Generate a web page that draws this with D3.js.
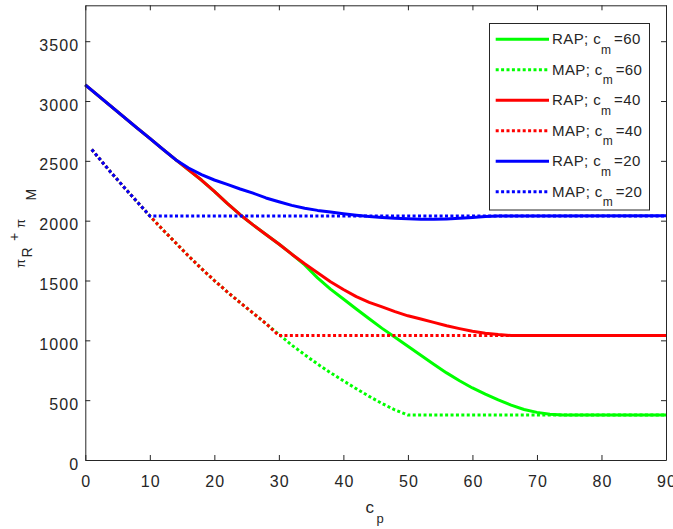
<!DOCTYPE html>
<html>
<head>
<meta charset="utf-8">
<script src="https://cdn.jsdelivr.net/npm/d3@7"></script>
<style>
  html, body { margin: 0; padding: 0; background: #fff; }
  svg { display: block; }
  text { font-family: "Liberation Sans", Arial, Helvetica, sans-serif; fill: #262626; }
</style>
</head>
<body>
<svg id="chart" width="673" height="529"></svg>
<script>
// ---- data ----
const xTicks = [0, 10, 20, 30, 40, 50, 60, 70, 80, 90];
const yTicks = [0, 500, 1000, 1500, 2000, 2500, 3000, 3500];
const xDomain = [0, 90];
const yDomain = [0, 3800];

// RAP; c_m = 60 (green, solid)
const rap60 = [[0,3135],[2,3045],[4,2955],[6,2865],[8,2775],[10,2688],[12,2598],[14,2510],[16,2425],[18,2340],[20,2245],[22,2145],[24,2050],[26,1965],[28,1885],[30,1805],[32,1720],[34,1630],[36,1522],[38,1428],[40,1345],[42,1262],[44,1180],[46,1100],[48,1025],[50,950],[52,875],[54,800],[56,728],[58,662],[60,602],[62,550],[64,502],[66,458],[68,422],[70,398],[72,382],[74,376],[90,376]];
// MAP; c_m = 60 (green, dotted)
const map60 = [[1,2595],[2,2530],[4,2402],[6,2280],[8,2160],[10,2040],[12,1925],[14,1815],[16,1705],[18,1600],[20,1500],[22,1405],[24,1315],[26,1228],[28,1140],[30,1050],[32,960],[34,880],[36,802],[38,730],[40,662],[42,596],[44,532],[46,472],[48,418],[50,376],[90,376]];
// RAP; c_m = 40 (red, solid)
const rap40 = [[0,3135],[2,3045],[4,2955],[6,2865],[8,2775],[10,2688],[12,2598],[14,2510],[16,2425],[18,2340],[20,2245],[22,2145],[24,2050],[26,1965],[28,1885],[30,1805],[32,1720],[34,1640],[36,1565],[38,1490],[40,1425],[42,1365],[44,1318],[46,1280],[48,1240],[50,1205],[52,1178],[54,1150],[56,1122],[58,1098],[60,1076],[62,1060],[64,1048],[66,1040],[90,1040]];
// MAP; c_m = 40 (red, dotted)
const map40 = [[1,2595],[2,2530],[4,2402],[6,2280],[8,2160],[10,2040],[12,1925],[14,1815],[16,1705],[18,1600],[20,1500],[22,1405],[24,1315],[26,1228],[28,1140],[30,1040],[90,1040]];
// RAP; c_m = 20 (blue, solid)
const rap20 = [[0,3135],[2,3045],[4,2955],[6,2865],[8,2775],[10,2688],[12,2598],[14,2510],[16,2440],[18,2385],[20,2340],[22,2303],[24,2265],[26,2230],[28,2190],[30,2158],[32,2128],[34,2104],[36,2086],[38,2072],[40,2058],[42,2045],[44,2034],[46,2027],[48,2021],[50,2016],[52,2012],[54,2012],[56,2015],[58,2020],[60,2027],[62,2034],[64,2040],[90,2042]];
// MAP; c_m = 20 (blue, dotted)
const map20 = [[1,2595],[2,2530],[4,2402],[6,2280],[8,2160],[10,2040],[90,2040]];

const seriesNames = ["RAP; c", "MAP; c", "RAP; c", "MAP; c", "RAP; c", "MAP; c"];
const seriesSub = ["m", "m", "m", "m", "m", "m"];
const seriesTail = ["=60", "=60", "=40", "=40", "=20", "=20"];
const seriesData = [rap60, map60, rap40, map40, rap20, map20];
const seriesColors = ["#00ff00", "#00ff00", "#ff0000", "#ff0000", "#0000ff", "#0000ff"];
const seriesDotted = [false, true, false, true, false, true];

// ---- layout ----
const svg = d3.select("#chart");
const L = 85.3, R = 666, T = 5.3, B = 460;
const axisColor = "#262626";

const x = d3.scaleLinear().domain(xDomain).range([L, R]);
const y = d3.scaleLinear().domain(yDomain).range([B, T]);

// lines
const line = d3.line().x(d => x(d[0])).y(d => y(d[1]));
const plot = svg.append("g");
seriesData.forEach((data, i) => {
  plot.append("path")
    .datum(data)
    .attr("d", line)
    .attr("fill", "none")
    .attr("stroke", seriesColors[i])
    .attr("stroke-width", 3)
    .attr("stroke-linejoin", "round")
    .attr("stroke-dasharray", seriesDotted[i] ? "3,2.4" : null);
});

// axes with inward ticks (box on)
const tickLen = 5;
const fmt = d3.format("d");
const xAxisB = d3.axisBottom(x).tickValues(xTicks).tickSizeInner(-tickLen).tickSizeOuter(0).tickPadding(0).tickFormat(fmt);
const xAxisT = d3.axisTop(x).tickValues(xTicks).tickSizeInner(-tickLen).tickSizeOuter(0).tickFormat("");
const yAxisL = d3.axisLeft(y).tickValues(yTicks).tickSizeInner(-tickLen).tickSizeOuter(0).tickFormat(fmt);
const yAxisR = d3.axisRight(y).tickValues(yTicks).tickSizeInner(-tickLen).tickSizeOuter(0).tickFormat("");

function styleAxis(g) {
  g.select(".domain").attr("stroke", axisColor).attr("stroke-width", 1);
  g.selectAll(".tick line").attr("stroke", axisColor).attr("stroke-width", 1);
  g.selectAll(".tick text").attr("fill", axisColor)
    .style("font-size", "16px").style("letter-spacing", "1.1px")
    .attr("font-family", "'Liberation Sans', Arial, sans-serif");
}

const gxB = svg.append("g").attr("transform", `translate(0,${B})`).call(xAxisB).call(styleAxis);
gxB.selectAll(".tick text").attr("dy", null).attr("y", 27).attr("dx", "0.5");
const gxT = svg.append("g").attr("transform", `translate(0,${T})`).call(xAxisT).call(styleAxis);
const gyL = svg.append("g").attr("transform", `translate(${L},0)`).call(yAxisL).call(styleAxis);
gyL.selectAll(".tick text").attr("dy", null).attr("x", -6).attr("y", 9);
const gyR = svg.append("g").attr("transform", `translate(${R},0)`).call(yAxisR).call(styleAxis);

// x label  c_p
svg.append("text").attr("x", 365.5).attr("y", 513).style("font-size", "17px").text("c");
svg.append("text").attr("x", 376.5).attr("y", 522.5).style("font-size", "13px").text("p");

// y label  π_R + π_M  (rotated)
const yl = svg.append("g").attr("transform", "rotate(-90)");
yl.append("text").attr("x", -268).attr("y", 25).style("font-size", "13px").text("π");
yl.append("text").attr("x", -257.5).attr("y", 32).style("font-size", "14px").text("R");
yl.append("text").attr("x", -241).attr("y", 18.5).style("font-size", "14px").text("+");
yl.append("text").attr("x", -228).attr("y", 25).style("font-size", "13px").text("π");
yl.append("text").attr("x", -200.5).attr("y", 36).style("font-size", "14px").text("M");

// legend
const lg = svg.append("g");
lg.append("rect").attr("x", 489.5).attr("y", 23.5).attr("width", 160).attr("height", 186.5)
  .attr("fill", "#fff").attr("stroke", axisColor).attr("stroke-width", 1);
const rowY0 = 39.3, rowStep = 30.48;
seriesData.forEach((d, i) => {
  const ry = rowY0 + i * rowStep;
  lg.append("line").attr("x1", 495.7).attr("x2", 549).attr("y1", ry).attr("y2", ry)
    .attr("stroke", seriesColors[i]).attr("stroke-width", 3)
    .attr("stroke-dasharray", seriesDotted[i] ? "3,2.4" : null);
  const t = lg.append("text").attr("x", 552).attr("y", ry + 5)
    .style("font-size", "15px").style("letter-spacing", "0.4px");
  t.append("tspan").text(seriesNames[i]);
  t.append("tspan").attr("dy", 9.5).style("font-size", "12px").text(seriesSub[i]);
  t.append("tspan").attr("dy", -9.5).attr("dx", 2.5).text(seriesTail[i]);
});
</script>
</body>
</html>
